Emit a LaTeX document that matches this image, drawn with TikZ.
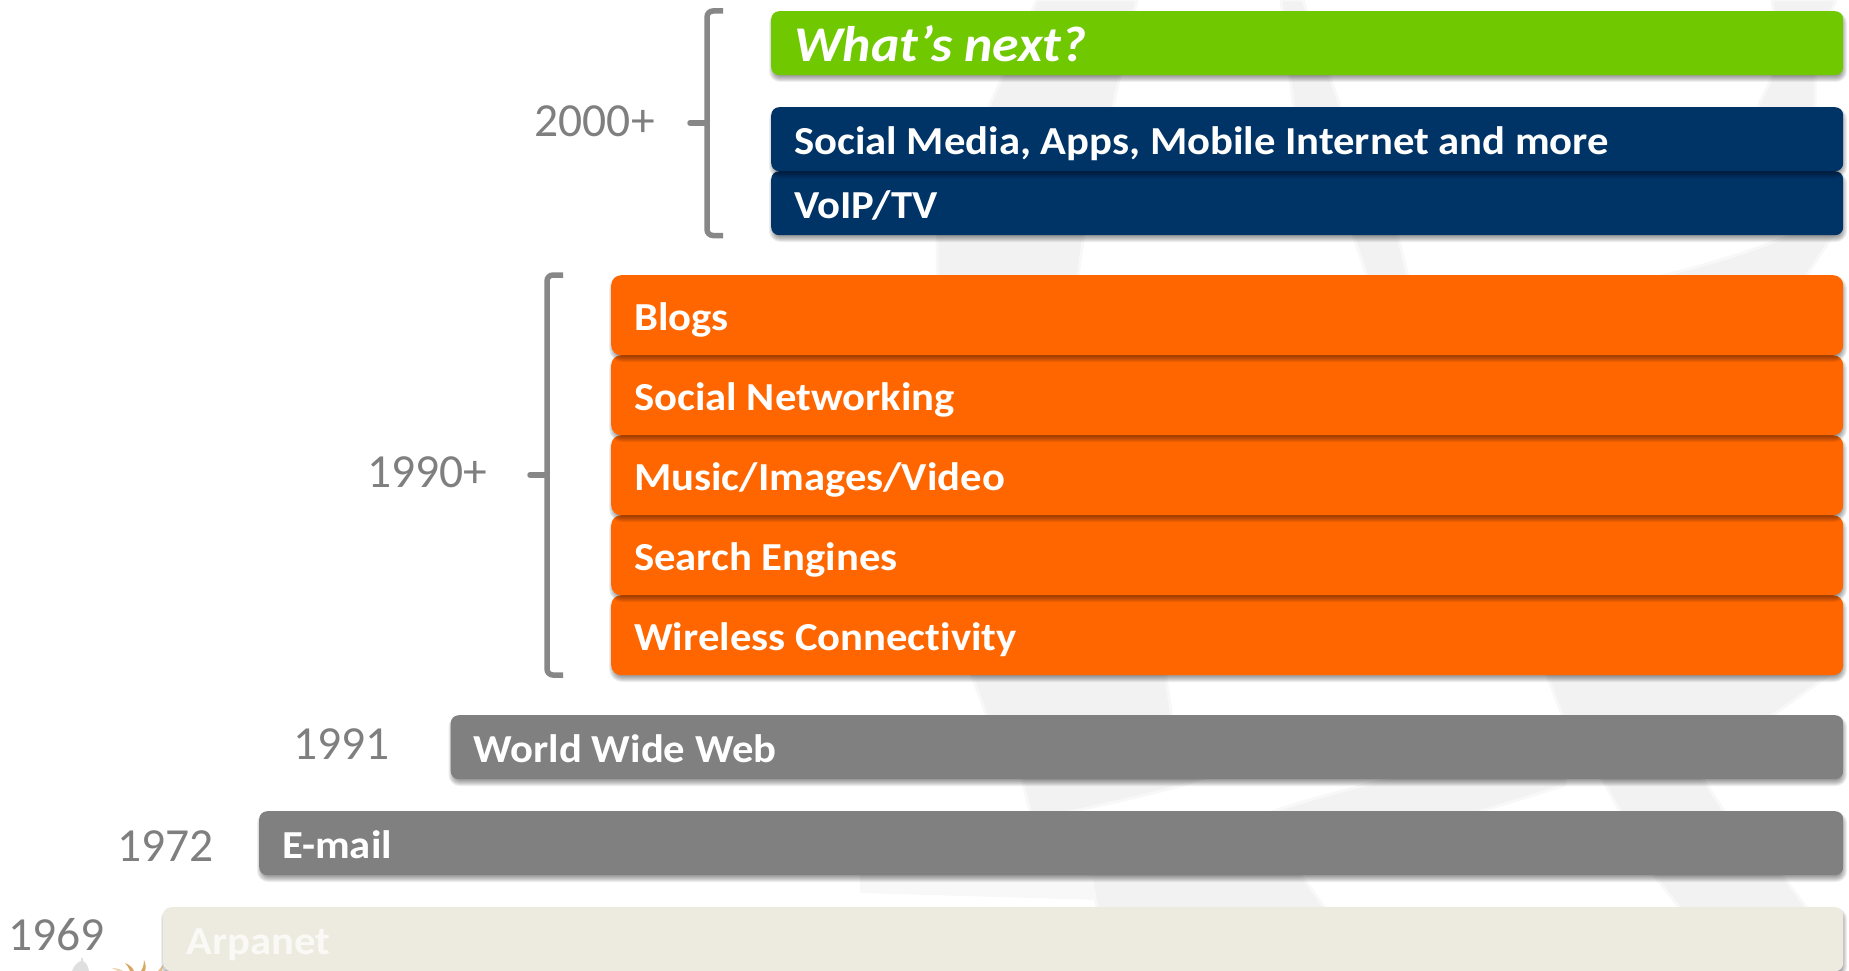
\documentclass[tikz,border=0pt]{standalone}
\usepackage{fontspec}
\setmainfont[Ligatures=NoCommon]{Carlito}
\newfontfamily\barfont[Ligatures=NoCommon,FakeStretch=1.075]{Carlito}
\definecolor{wm}{HTML}{F2F2F2}
\definecolor{wmsoft}{HTML}{F8F8F8}
\definecolor{cgreen}{HTML}{70C800}
\definecolor{cnavy}{HTML}{003366}
\definecolor{corange}{HTML}{FF6600}
\definecolor{cgray}{HTML}{808080}
\definecolor{cbeige}{HTML}{EDEBE0}
\definecolor{cyear}{HTML}{7F7F7F}
\definecolor{cbrack}{HTML}{878787}
\definecolor{cgold}{HTML}{D8A860}
\tikzset{
  barbox/.style={anchor=north west,inner sep=0pt,text=white,font=\barfont\fontsize{39.7}{42}\selectfont\bfseries},
  yearlabel/.style={anchor=base west,inner sep=0pt,text=cyear,font=\fontsize{47.5}{50}\selectfont},
  bracketline/.style={draw=cbrack,line width=5.5pt,rounded corners=6pt},
  nubline/.style={draw=cbrack,line width=5.5pt,line cap=round},
  watermark/.style={fill=wm,draw=wmsoft,line width=3pt,line join=round}
}
% #1 name, #2 left, #3 top, #4 bottom, #5 radius, #6 colour, #7 baseline, #8 text, #9 extra style
\newcommand{\barbox}[9]{%
  \foreach \k in {-3,-2,-1,0,1,2,3}{%
    \pgfmathsetmacro{\rr}{#5+\k}%
    \fill[black,opacity=0.065,rounded corners=\rr pt]
      ({#2+1-\k},{#3+4-\k}) rectangle ({1843+1+\k},{#4+4+\k});
  }%
  \pgfmathsetmacro{\bw}{1843-#2}%
  \pgfmathsetmacro{\bh}{#7-#3+0.8}%
  \pgfmathsetmacro{\bd}{#4-#7-0.8}%
  \node[barbox,fill=#6,rounded corners=#5pt,text height=\bh pt,text depth=\bd pt,#9] (#1) at (#2,#3)
    {\makebox[\bw pt][l]{\hspace*{23pt}#8}};
}
\begin{document}
\begin{tikzpicture}[x=1pt,y=-1pt]
\useasboundingbox (0,0) rectangle (1849,971);
% watermark visible in the gaps between the bars
\path[watermark] (1037,0) -- (1137,0) -- (1110,120) -- (983,120) -- cycle;
\path[watermark] (1281,0) -- (1303,0) -- (1345,120) -- (1295,120) -- cycle;
\path[watermark] (1772,0) -- (1836,0) -- (1815,50) -- (1815,120) -- (1752,120) -- (1780,60) -- cycle;
\path[watermark] (937,225) -- (1085,225) -- (1077,285) -- (937,285) -- cycle;
\path[watermark] (1350,225) -- (1395,225) -- (1410,285) -- (1370,285) -- cycle;
\path[watermark] (1620,285) .. controls (1720,265) and (1780,240) .. (1815,225) -- (1840,225) -- (1800,285) -- cycle;
\path[watermark] (968,665) -- (1164,665) -- (1173,725) -- (990,725) -- cycle;
\path[watermark] (1543,665) -- (1843,665) -- (1759,725) -- (1566,725) -- cycle;
\path[watermark] (1020,770) -- (1225,770) .. controls (1180,790) and (1100,805) .. (1032,820) -- cycle;
\path[watermark] (1250,820) .. controls (1300,800) and (1350,790) .. (1420,770) -- (1566,770) -- (1565,785) .. controls (1520,800) and (1480,810) .. (1460,820) -- cycle;
\path[watermark] (1597,770) -- (1697,770) -- (1730,820) -- (1625,820) -- cycle;
\fill[wmsoft] (860,870) -- (1100,870) -- (1100,900) -- (860,893) -- cycle;
\path[watermark] (1090,870) -- (1297,870) -- (1330,915) -- (1098,915) -- cycle;
\path[watermark] (1650,870) -- (1778,870) -- (1812,915) -- (1685,915) -- cycle;
% ornament cut off by the lower edge
\fill[gray!25] (72,971) .. controls (74,965) and (78,962) .. (81,961) -- (81,958) -- (83,958) -- (83,961) .. controls (86,962) and (88,966) .. (89,971) -- cycle;
\fill[cgold] (125,963) .. controls (130,965) and (133,968) .. (134,971) -- (130,971) .. controls (129,968) and (127,965) .. (125,963) -- cycle;
\fill[cgold] (144,960) .. controls (146,964) and (146,968) .. (145,971) -- (141,971) .. controls (143,968) and (144,964) .. (144,960) -- cycle;
\fill[cgold!50] (112,968) .. controls (116,968) and (120,969) .. (123,971) -- (118,971) -- cycle;
\fill[cgold!70] (163,965) .. controls (161,967) and (160,969) .. (158,971) -- (162,971) -- cycle;
% bars, lowest first
\barbox{arpanet}{163}{907}{971}{8}{cbeige}{953}{Arpanet}{text=white!70!cbeige}
\barbox{email}{259}{811}{875}{8}{cgray}{857}{E-mail}{}
\barbox{www}{450.5}{715}{779}{8}{cgray}{761}{World Wide Web}{}
\barbox{wireless}{611}{595}{675}{10}{corange}{649}{Wireless Connectivity}{}
\barbox{search}{611}{515}{595}{10}{corange}{569}{Search Engines}{}
\barbox{music}{611}{435}{515}{10}{corange}{489}{Music/Images/Video}{}
\barbox{social}{611}{355}{435}{10}{corange}{409}{Social Networking}{}
\barbox{blogs}{611}{275}{355}{10}{corange}{329}{Blogs}{}
\barbox{voip}{771}{171}{235}{8}{cnavy}{217.5}{VoIP/TV}{}
\barbox{media}{771}{107}{171}{8}{cnavy}{153.5}{Social Media, Apps, Mobile Internet and more}{}
\barbox{next}{771}{11}{75}{8}{cgreen}{60.5}{\fontsize{50}{54}\selectfont\itshape What’s next?}{}
% brackets
\draw[bracketline] (723,11) -- (707,11) -- (707,235.5) -- (723,235.5);
\draw[nubline] (690,123) -- (707,123);
\draw[bracketline] (563,275) -- (547,275) -- (547,675) -- (563,675);
\draw[nubline] (530,475) -- (547,475);
% years
\node[yearlabel] (y2000) at (534.5,137) {2000+};
\node[yearlabel] (y1990) at (367,487) {1990+};
\node[yearlabel] (y1991) at (293,759.5) {1991};
\node[yearlabel] (y1972) at (117,861) {1972};
\node[yearlabel] (y1969) at (8,950) {1969};
\end{tikzpicture}
\end{document}
